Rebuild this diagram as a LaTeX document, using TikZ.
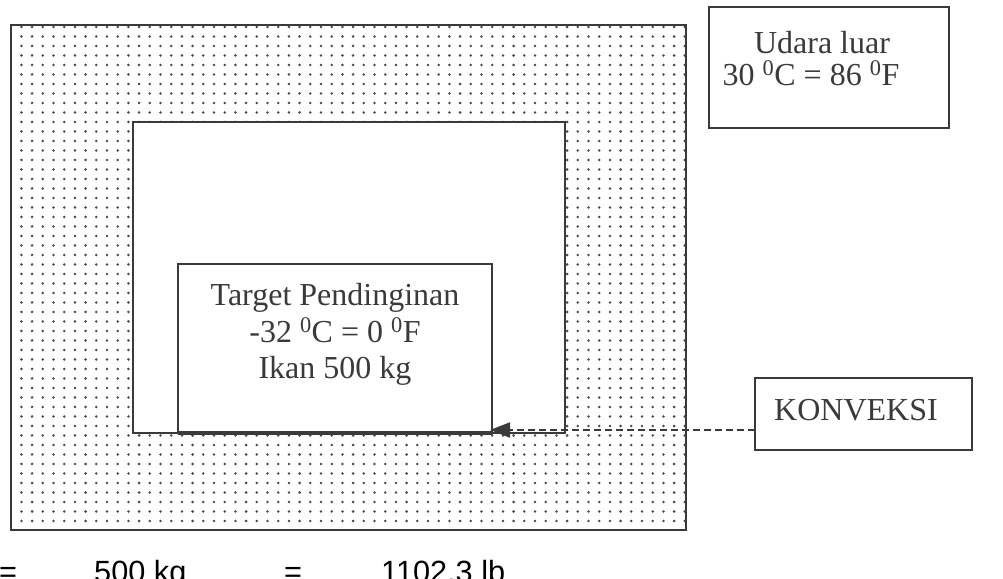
\documentclass[tikz,border=0pt]{standalone}
\usepackage{fontspec}
\setmainfont{Liberation Serif}
\newfontfamily\arialf{Liberation Sans}
\usetikzlibrary{patterns,arrows.meta}
\definecolor{ink}{HTML}{3A3A3A}
\definecolor{dotink}{HTML}{4A4A4A}
\pgfdeclarepatternformonly{scandots}{\pgfqpoint{-2pt}{-2pt}}{\pgfqpoint{2pt}{2pt}}{\pgfqpoint{10.7pt}{9.5pt}}{\pgfpathcircle{\pgfpointorigin}{1.4pt}\pgfusepath{fill}}
\tikzset{
  wall/.style={draw=ink, line width=2.4pt, inner sep=0pt, outer sep=0pt, anchor=north west},
  dotted wall/.style={wall, pattern=scandots, pattern color=dotink},
  plainbox/.style={wall, fill=white},
  serif/.style={font=\fontsize{32}{36}\selectfont, text=ink, inner sep=0pt, anchor=base},
  sans/.style={font=\arialf\fontsize{30.7}{34}\selectfont, text=black, inner sep=0pt, anchor=base west},
  flow/.style={draw=ink, line width=2pt, dash pattern=on 7pt off 4pt, -{Triangle[length=20pt,width=15pt]}}
}
\begin{document}
\begin{tikzpicture}[x=1pt,y=-1pt]
\clip (0,0) rectangle (1003,578);
\fill[white] (0,0) rectangle (1003,578);
% insulated wall (dotted) and cold room
\node[dotted wall, minimum width=675pt, minimum height=505pt] (outer) at (11,25) {};
\node[plainbox, minimum width=432pt, minimum height=311pt] (inner) at (133,122) {};
% target box
\node[plainbox, minimum width=314pt, minimum height=169pt] (target) at (178,264) {};
\draw[ink, line width=3.5pt] (target.south west) -- (target.south east);
\node[serif] (t1) at (335,305) {Target Pendinginan};
\node[serif] (t2) at (335,342) {-32 \textsuperscript{0}C = 0 \textsuperscript{0}F};
\node[serif] (t3) at (335,378) {Ikan 500 kg};
% outside air box
\node[plainbox, minimum width=240pt, minimum height=121pt] (udara) at (709,7) {};
\node[serif] (u1) at (822,54) {Udara luar};
\node[serif] (u2) at (811,85) {30 \textsuperscript{0}C = 86 \textsuperscript{0}F};
% convection box
\node[plainbox, minimum width=217pt, minimum height=72pt] (konv) at (755,378) {};
\node[serif] (k1) at (856,420) {KONVEKSI};
% arrow
\coordinate (tip) at (490,430);
\draw[flow] (konv.west |- tip) -- (tip);
% bottom line of text (cut off at the lower edge, as in the source)
\node[sans] (e1) at (-1,582) {=};
\node[sans] (m1) at (94,582) {500 kg};
\node[sans] (e2) at (284,582) {=};
\node[sans] (m2) at (381,582) {1102.3 lb};
\end{tikzpicture}
\end{document}
